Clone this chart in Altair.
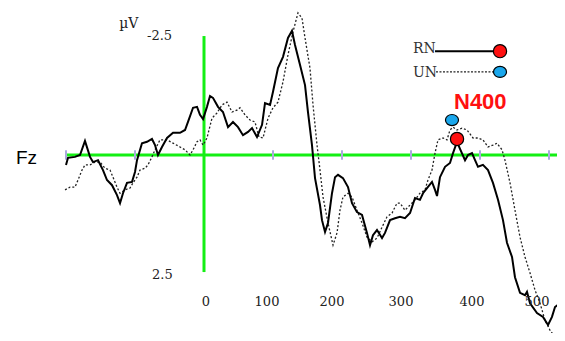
import altair as alt
import pandas as pd

# ---------------- data (time in ms, amplitude in microvolts) ----------------
rn_time = [-200, -197.1, -187, -179.7, -172.5, -165.2, -160.9, -153.6, -146.4, -140.6,
           -133.3, -126.1, -121.7, -117.4, -111.6, -104.3, -100, -97.1, -89.9, -82.6,
           -75.4, -71, -66.7, -60.9, -53.6, -44.9, -34.8, -27.5, -23.2, -15.9,
           -10.1, -5.8, -1.4, 4.3, 8.7, 13, 20.3, 27.5, 34.8, 42,
           49.3, 56.5, 63.8, 69.6, 76.8, 84.1, 88.4, 95.7, 100, 107.2,
           114.5, 121.7, 127.5, 131.9, 139.1, 146.4, 150.7, 156.5, 160.9, 168.1,
           171, 175.4, 179.7, 185.5, 189.9, 194.2, 201.4, 208.7, 214.5, 221.7,
           229, 236.2, 240.6, 244.9, 250.7, 258, 262.3, 269.6, 276.8, 284.1,
           291.3, 298.6, 305.8, 313, 317.4, 323.2, 330.4, 334.8, 337.7, 342,
           349.3, 356.5, 360.9, 366.7, 371, 378.3, 382.6, 388.4, 392.8, 397.1,
           404.3, 411.6, 418.8, 426.1, 433.3, 439.1, 446.4, 450.7, 458, 465.2,
           468.1, 472.5, 482.6, 491.3, 498.6, 504.3, 508.7, 515.9]
rn_amp = [0.21, 0.06, 0.04, 0, -0.30, 0.04, 0.15, 0.11, 0.32, 0.53,
          0.64, 0.85, 1.02, 0.81, 0.59, 0.57, 0.36, 0.11, -0.25, -0.28,
          -0.34, -0.21, 0, -0.17, -0.36, -0.47, -0.47, -0.53, -0.70, -1.00,
          -1.02, -0.85, -0.76, -1.02, -1.25, -1.21, -1.02, -0.91, -0.59, -0.70,
          -0.59, -0.42, -0.49, -0.57, -0.38, -0.64, -1.10, -1.06, -1.34, -1.84,
          -2.08, -2.48, -2.63, -2.33, -1.91, -1.48, -0.91, -0.21, 0.49, 1.06,
          1.38, 1.63, 1.44, 0.81, 0.47, 0.42, 0.49, 0.68, 1.02, 1.21,
          1.27, 1.65, 1.91, 1.70, 1.59, 1.76, 1.65, 1.38, 1.34, 1.31,
          1.34, 1.23, 0.91, 0.95, 0.81, 0.70, 0.57, 0.74, 0.87, 0.47,
          0.25, 0.17, -0.04, -0.28, -0.13, 0.11, 0, -0.04, 0.11, 0.25,
          0.21, 0.32, 0.59, 0.95, 1.38, 1.86, 2.16, 2.59, 2.92, 2.97,
          2.90, 3.14, 3.35, 3.43, 3.60, 3.43, 3.22, 3.14]

un_time = [-201.4, -194.2, -187, -182.6, -176.8, -172.5, -165.2, -158, -150.7, -143.5,
           -136.2, -131.9, -126.1, -121.7, -114.5, -107.2, -102.9, -97.1, -92.8, -85.5,
           -81.2, -75.4, -71, -63.8, -53.6, -44.9, -34.8, -27.5, -20.3, -15.9,
           -10.1, -5.8, -1.4, 4.3, 11.6, 18.8, 26.1, 33.3, 40.6, 47.8,
           52.2, 59.4, 66.7, 73.9, 79.7, 85.5, 92.8, 100, 107.2, 114.5,
           121.7, 129, 136.2, 142, 146.4, 153.6, 158, 163.8, 168.1, 172.5,
           179.7, 187, 192.8, 197.1, 201.4, 208.7, 214.5, 221.7, 229, 236.2,
           243.5, 250.7, 258, 265.2, 272.5, 279.7, 284.1, 291.3, 298.6, 305.8,
           313, 320.3, 324.6, 330.4, 334.8, 339.1, 346.4, 352.2, 356.5, 360.9,
           366.7, 373.9, 381.2, 389.9, 397.1, 404.3, 411.6, 418.8, 424.6, 431.9,
           436.2, 443.5, 450.7, 458, 465.2, 472.5, 479.7, 487, 494.2, 501.4,
           508.7]
un_amp = [0.74, 0.68, 0.68, 0.53, 0.32, 0.21, 0.21, 0.15, 0.15, 0.28,
          0.32, 0.47, 0.68, 0.81, 0.74, 0.70, 0.59, 0.47, 0.32, 0.28,
          0.21, 0.04, -0.11, -0.32, -0.32, -0.25, -0.17, -0.11, 0, -0.11,
          -0.28, -0.32, -0.21, -0.36, -0.78, -0.89, -1.06, -1.12, -0.91, -0.95,
          -1.00, -0.85, -0.74, -0.70, -0.38, -0.36, -0.78, -1.00, -1.12, -1.55,
          -2.12, -2.61, -3.01, -2.90, -2.48, -1.84, -1.06, -0.21, 0.32, 0.89,
          1.44, 1.91, 1.65, 1.17, 0.89, 0.81, 0.89, 1.17, 1.44, 1.74,
          1.84, 1.76, 1.53, 1.31, 1.23, 1.02, 1.02, 1.17, 1.06, 0.95,
          0.81, 0.74, 0.53, 0.32, -0.04, -0.32, -0.36, -0.32, -0.53, -0.59,
          -0.53, -0.57, -0.53, -0.36, -0.36, -0.32, -0.17, -0.21, -0.25, -0.11,
          0.11, 0.59, 1.17, 1.74, 2.16, 2.50, 2.86, 3.14, 3.50, 3.71,
          3.86]

# N400 peak markers (time ms, amplitude uV)
n400_rn = (366.7, -0.34)
n400_un = (359.4, -0.74)

# axis ticks and labels
x_ticks = [-200, -100, 100, 200, 300, 400, 500]
x_tick_labels = ["0", "100", "200", "300", "400", "500"]
y_tick_labels = ["-2.5", "2.5"]
conditions = ["RN", "UN"]

# ---------------- layout constants (in data units) ----------------
x_label_pos = [2.9, 91.3, 185.5, 285.5, 388.4, 482.6]
x_label_base = 3.20
y_label_pos = [(-82.6, -2.44), (-75.4, 2.63)]
t_min, t_max = -284.06, 511.59
v_min, v_max = -3.114, 3.771

XS = alt.Scale(domain=[t_min, t_max], nice=False, zero=False)
YS = alt.Scale(domain=[v_min, v_max], reverse=True, nice=False, zero=False)


def X(f="t"):
    return alt.X(f"{f}:Q", scale=XS, axis=None)


def Y(f="v"):
    return alt.Y(f"{f}:Q", scale=YS, axis=None)


GREEN = "#14ef14"
RED = "#ff1010"
BLUE = "#1aa7ec"
ELLIPSE = "M-1,0A1,0.85,0,1,1,1,0A1,0.85,0,1,1,-1,0Z"
SERIF = "DejaVu Serif"

# green axes
h_axis = alt.Chart(pd.DataFrame({"t": [-200], "t2": [516], "v": [0]})).mark_rule(
    color=GREEN, strokeWidth=3).encode(x=X(), x2="t2:Q", y=Y())
v_axis = alt.Chart(pd.DataFrame({"t": [0], "v": [-2.52], "v2": [2.48]})).mark_rule(
    color=GREEN, strokeWidth=3).encode(x=X(), y=Y(), y2="v2:Q")
ticks = alt.Chart(pd.DataFrame({"t": x_ticks, "v": [-0.1] * len(x_ticks),
                                "v2": [0.1] * len(x_ticks)})).mark_rule(
    color="#aaaadd", strokeWidth=2).encode(x=X(), y=Y(), y2="v2:Q")

# waveforms
un_line = alt.Chart(pd.DataFrame({"t": un_time, "v": un_amp})).mark_line(
    color="#222222", strokeWidth=1.3, strokeDash=[2, 2]).encode(x=X(), y=Y())
rn_line = alt.Chart(pd.DataFrame({"t": rn_time, "v": rn_amp})).mark_line(
    color="black", strokeWidth=2).encode(x=X(), y=Y())

# peak markers
un_pt = alt.Chart(pd.DataFrame({"t": [n400_un[0], 429], "v": [n400_un[1], -1.76]})).mark_point(
    shape=ELLIPSE, filled=True, fill=BLUE, stroke="black", strokeWidth=1.2,
    size=170, opacity=1).encode(x=X(), y=Y())
rn_pt = alt.Chart(pd.DataFrame({"t": [n400_rn[0], 429], "v": [n400_rn[1], -2.20]})).mark_point(
    shape="circle", filled=True, fill=RED, stroke="black", strokeWidth=1.2,
    size=175, opacity=1).encode(x=X(), y=Y())

# legend lines
leg_rn = alt.Chart(pd.DataFrame({"t": [334.8], "t2": [421.7], "v": [-2.20]})).mark_rule(
    color="black", strokeWidth=2).encode(x=X(), x2="t2:Q", y=Y())
leg_un = alt.Chart(pd.DataFrame({"t": [336.2], "t2": [418.8], "v": [-1.76]})).mark_rule(
    color="#222222", strokeWidth=1.2, strokeDash=[2, 1.5]).encode(x=X(), x2="t2:Q", y=Y())
leg_text = alt.Chart(pd.DataFrame({"t": [302.9, 302.9], "v": [-2.16, -1.65],
                                   "label": conditions})).mark_text(
    align="left", baseline="alphabetic", font=SERIF, fontSize=14, color="#333333").encode(
    x=X(), y=Y(), text="label:N")

# axis labels
xlab = alt.Chart(pd.DataFrame({"t": x_label_pos, "v": [x_label_base] * len(x_label_pos),
                               "label": x_tick_labels})).mark_text(
    align="center", baseline="alphabetic", font=SERIF, fontSize=13, color="#222222").encode(
    x=X(), y=Y(), text="label:N")
ylab = alt.Chart(pd.DataFrame({"t": [p[0] for p in y_label_pos], "v": [p[1] for p in y_label_pos],
                               "label": y_tick_labels})).mark_text(
    align="left", baseline="alphabetic", font=SERIF, fontSize=13, color="#222222").encode(
    x=X(), y=Y(), text="label:N")
unit = alt.Chart(pd.DataFrame({"t": [-123], "v": [-2.69], "label": ["\u00b5V"]})).mark_text(
    align="left", baseline="alphabetic", font=SERIF, fontSize=14,
    color="#222222").encode(x=X(), y=Y(), text="label:N")
fz = alt.Chart(pd.DataFrame({"t": [-272.5], "v": [0.19], "label": ["Fz"]})).mark_text(
    align="left", baseline="alphabetic", font="Liberation Sans", fontSize=19,
    color="black").encode(x=X(), y=Y(), text="label:N")
n400 = alt.Chart(pd.DataFrame({"t": [362.3], "v": [-0.97], "label": ["N400"]})).mark_text(
    align="left", baseline="alphabetic", font="Liberation Sans", fontSize=22,
    fontWeight="bold", color=RED).encode(x=X(), y=Y(), text="label:N")

chart = alt.layer(
    h_axis, v_axis, ticks, un_line, rn_line, leg_rn, leg_un, un_pt, rn_pt,
    leg_text, xlab, ylab, unit, fz, n400
).properties(
    width=549, height=325, padding=0,
    autosize=alt.AutoSizeParams(type="none"),
    background="white",
).configure_view(strokeWidth=0)

chart.save("out.html", embed_options={"renderer": "svg", "actions": False})
